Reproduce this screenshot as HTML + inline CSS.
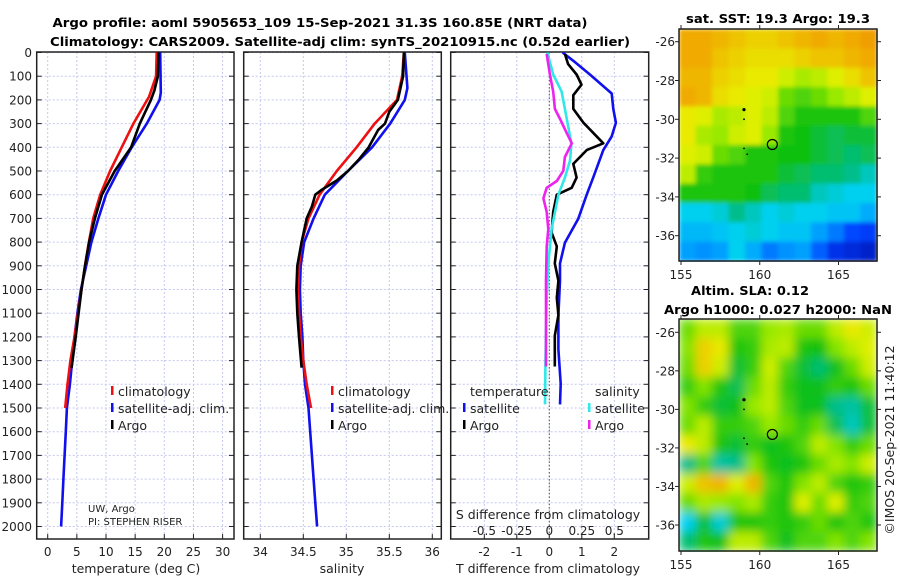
<!DOCTYPE html>
<html><head><meta charset="utf-8"><style>
body{margin:0;background:#fff;}
svg{display:block;font-family:"DejaVu Sans","Liberation Sans",sans-serif;}
</style></head><body>
<svg id="fig" width="900" height="580" viewBox="0 0 900 580" xmlns="http://www.w3.org/2000/svg">
<defs>
<filter id="blur" x="0" y="0" width="1" height="1"><feGaussianBlur stdDeviation="5" edgeMode="duplicate"/></filter>
<filter id="blur2" x="0" y="0" width="1" height="1"><feGaussianBlur stdDeviation="2" edgeMode="duplicate"/></filter>
</defs>
<rect width="900" height="580" fill="#fff"/>
<text x="320" y="27" text-anchor="middle" font-weight="bold" font-size="12" textLength="535" lengthAdjust="spacingAndGlyphs">Argo profile: aoml 5905653_109 15-Sep-2021 31.3S 160.85E (NRT data)</text>
<text x="340" y="46" text-anchor="middle" font-weight="bold" font-size="12" textLength="580" lengthAdjust="spacingAndGlyphs">Climatology: CARS2009. Satellite-adj clim: synTS_20210915.nc (0.52d earlier)</text>
<text x="778" y="23" text-anchor="middle" font-weight="bold" font-size="12" textLength="184" lengthAdjust="spacingAndGlyphs">sat. SST: 19.3 Argo: 19.3</text>
<text x="750" y="295" text-anchor="middle" font-weight="bold" font-size="12" textLength="118" lengthAdjust="spacingAndGlyphs">Altim. SLA: 0.12</text>
<text x="778" y="314" text-anchor="middle" font-weight="bold" font-size="12" textLength="228" lengthAdjust="spacingAndGlyphs">Argo h1000: 0.027 h2000: NaN</text>
<text transform="translate(894,440) rotate(-90)" text-anchor="middle" font-size="12.5" fill="#222">©IMOS 20-Sep-2021 11:40:12</text>
<g id="g"></g>
</svg>
<script>
// ---- profile data ----
const climTdepth=[0,100,186,300,400,500,600,700,810,900,1000,1100,1200,1300,1400,1500];
const climT=[18.7,18.6,17.4,14.7,12.7,10.7,9.0,7.8,7.0,6.4,5.8,5.2,4.6,3.9,3.4,3.0];
const satTdepth=[0,170,200,300,400,500,600,700,800,900,1000,1100,1200,1300,1400,1500,1600,1700,1800,1900,2000];
const satT=[19.3,19.4,19.2,17.0,14.4,12.1,10.0,8.7,7.5,6.6,5.7,5.1,4.6,4.2,3.8,3.3,3.1,2.9,2.7,2.5,2.3];
const argoTdepth=[0,100,160,200,300,400,500,600,700,800,900,1000,1100,1200,1330];
const argoT=[19.0,18.9,18.3,17.7,15.8,14.3,11.5,9.3,8.1,7.1,6.4,5.8,5.3,4.8,4.1];
const climSdepth=[0,100,200,300,400,500,600,700,800,900,1000,1100,1200,1300,1400,1500];
const climS=[35.67,35.65,35.59,35.33,35.12,34.89,34.69,34.56,34.48,34.45,34.44,34.45,34.47,34.50,34.54,34.59];
const satSdepth=[0,150,200,300,400,500,600,700,800,900,1000,1100,1200,1300,1400,1500,1600,1700,1800,1900,2000];
const satS=[35.68,35.71,35.68,35.51,35.30,35.02,34.75,34.62,34.51,34.47,34.46,34.47,34.49,34.50,34.52,34.56,34.58,34.60,34.62,34.64,34.66];
const argoSdepth=[0,100,200,250,300,327,400,450,500,540,580,600,650,700,800,900,1000,1100,1200,1330];
const argoS=[35.67,35.66,35.60,35.50,35.45,35.37,35.26,35.15,35.02,34.89,34.71,34.64,34.60,34.54,34.48,34.43,34.42,34.43,34.45,34.48];
// differences
const dSatTdepth=[0,35,93,173,238,296,354,412,528,600,702,803,890,963,1108,1253,1398,1485];
const dSatT=[0.41,0.74,1.25,1.92,1.97,2.05,1.92,1.66,1.35,1.15,0.89,0.48,0.33,0.33,0.28,0.28,0.35,0.33];
const dArgoTdepth=[6,49,93,136,180,238,296,339,383,412,470,528,571,600,673,760,818,890,963,1035,1108,1195,1253,1325];
const dArgoT=[0.48,0.58,0.84,0.99,0.74,0.74,1.05,1.35,1.66,1.15,0.74,0.84,0.69,0.23,0.12,0.07,0.23,0.17,0.28,0.23,0.28,0.17,0.17,0.17];
const dSatSdepth=[0,93,165,238,310,383,455,528,600,745,890,1035,1180,1325,1485];
const dSatS=[-0.015,0.03,0.095,0.12,0.145,0.17,0.16,0.12,0.07,0.018,-0.008,-0.02,-0.025,-0.03,-0.033];
const dArgoSdepth=[6,93,165,238,281,339,383,441,499,542,571,615,673,745,818,963,1108,1325];
const dArgoS=[-0.02,0.005,0.03,0.043,0.083,0.133,0.173,0.12,0.108,0.058,-0.02,-0.045,-0.02,-0.008,-0.02,-0.025,-0.025,-0.025];
const depthTicks=[0,100,200,300,400,500,600,700,800,900,1000,1100,1200,1300,1400,1500,1600,1700,1800,1900,2000];
const tTicks=[0,5,10,15,20,25,30];
const sTicks=[34,34.5,35,35.5,36];
const sTickLabels=["34","34.5","35","35.5","36"];
const dTTicks=[-2,-1,0,1,2];
const dSTicks=[-0.5,-0.25,0,0.25,0.5];
const dSTickLabels=["-0.5","-0.25","0","0.25","0.5"];
// ---- map data (0..1 colour index), rows north->south, cols west->east ----
const sstGrid=[
[.86,.86,.84,.82,.80,.80,.82,.84,.86,.84,.86,.88],
[.86,.86,.82,.80,.78,.78,.78,.80,.82,.82,.84,.86],
[.84,.84,.80,.78,.76,.76,.72,.68,.70,.74,.78,.82],
[.86,.84,.78,.76,.74,.72,.62,.60,.62,.66,.70,.74],
[.76,.74,.68,.70,.74,.70,.60,.56,.56,.56,.56,.60],
[.76,.68,.66,.72,.74,.66,.56,.55,.52,.50,.52,.52],
[.74,.72,.62,.60,.56,.56,.55,.55,.52,.50,.48,.50],
[.70,.58,.56,.56,.56,.56,.52,.50,.48,.48,.46,.42],
[.56,.56,.56,.56,.55,.50,.48,.48,.42,.40,.38,.38],
[.38,.38,.40,.46,.42,.38,.40,.38,.38,.36,.36,.32],
[.34,.34,.36,.38,.40,.38,.36,.36,.30,.24,.16,.14],
[.30,.28,.30,.38,.32,.24,.28,.30,.20,.12,.10,.08]];
const slaGrid=[
[.62,.70,.70,.60,.60,.66,.68,.62,.62,.70,.76,.72],
[.64,.80,.76,.56,.58,.68,.70,.56,.55,.64,.70,.74],
[.62,.80,.72,.52,.58,.72,.60,.52,.48,.54,.62,.72],
[.58,.64,.56,.50,.62,.70,.58,.54,.54,.58,.56,.62],
[.64,.58,.52,.54,.66,.70,.60,.54,.54,.46,.44,.52],
[.62,.70,.58,.58,.60,.66,.62,.58,.62,.50,.42,.52],
[.76,.70,.56,.52,.58,.54,.56,.60,.70,.64,.58,.62],
[.46,.60,.44,.46,.64,.56,.54,.56,.62,.68,.64,.72],
[.72,.82,.84,.74,.84,.60,.56,.64,.70,.60,.56,.58],
[.62,.68,.66,.64,.68,.58,.56,.74,.62,.74,.58,.60],
[.38,.52,.40,.56,.56,.58,.56,.58,.62,.56,.60,.56],
[.48,.56,.54,.70,.70,.60,.54,.60,.60,.64,.60,.64]];
const lonTicks=[155,160,165];
const latTicks=[-26,-28,-30,-32,-34,-36];
const argoLon=160.8, argoLat=-31.3;
const coastLon=[159.0,159.0,159.0,159.2];
const coastLat=[-29.5,-30.0,-31.5,-31.8];

const NS='http://www.w3.org/2000/svg';
const G=document.getElementById('g');
function mk(tag,attrs,parent){const e=document.createElementNS(NS,tag);for(const k in attrs)e.setAttribute(k,attrs[k]);(parent||G).appendChild(e);return e;}
function txt(x,y,s,size,anchor,parent){const t=mk('text',{x:x,y:y,'font-size':size,'text-anchor':anchor||'middle',fill:'#222'},parent);t.textContent=s;return t;}

const yTop=52.5, yPer=0.2370, boxTop=52, boxBot=539;
const yD=d=>yTop+d*yPer;
const panels=[
 {name:'temperature',L:36.7,R:234,x:v=>47.7+v*5.83},
 {name:'salinity',L:243.7,R:441.3,x:v=>260.3+(v-34)*86},
 {name:'difference',L:450.7,R:648.7,x:v=>549.3+v*32.5}
];
panels.forEach((p,i)=>{
  const g=mk('g',{});
  
  
  const ticks=i==0?tTicks:(i==1?sTicks:dTTicks);
  ticks.forEach(v=>{const x=p.x(v);const l=mk('line',{x1:x,x2:x,y1:boxTop,y2:boxBot,stroke:'#c4c8ee','stroke-width':1,'stroke-dasharray':'2,2'},g);
    });
  depthTicks.forEach(d=>{const y=yD(d);const l=mk('line',{x1:p.L,x2:p.R,y1:y,y2:y,stroke:'#c4c8ee','stroke-width':1,'stroke-dasharray':'2,2'},g);
    
    mk('line',{x1:p.L,x2:p.L+5,y1:y,y2:y,stroke:'#222'},g);mk('line',{x1:p.R-5,x2:p.R,y1:y,y2:y,stroke:'#222'},g);
    if(i==0){const t=txt(32,y+4.5,String(d),12,'end',g);}
  });
  ticks.forEach((v,k)=>{const x=p.x(v);mk('line',{x1:x,x2:x,y1:boxBot,y2:boxBot-5,stroke:'#222'},g);
    const lab=i==1?sTickLabels[k]:String(v);const t=txt(x,556,lab,12,'middle',g);
    });
  const r=mk('rect',{x:p.L,y:boxTop,width:p.R-p.L,height:boxBot-boxTop,fill:'none',stroke:'#222','stroke-width':1.5},g);
  
});
const z=mk('line',{x1:549.3,x2:549.3,y1:boxTop,y2:boxBot,stroke:'#555','stroke-width':1,'stroke-dasharray':'1.5,2'});

function series(p,xs,ds,col,name,w){
  const pts=xs.map((v,k)=>p.x(v).toFixed(1)+','+yD(ds[k]).toFixed(1)).join(' ');
  const l=mk('polyline',{points:pts,fill:'none',stroke:col,'stroke-width':w||2.6,'stroke-linejoin':'round'});
  
}
const P0=panels[0],P1=panels[1],P2=panels[2];
series(P0,satT,satTdepth,'#1010ee','temp-satellite-line');
series(P0,climT,climTdepth,'#ee1010','temp-climatology-line');
series(P0,argoT,argoTdepth,'#000','temp-argo-line');
series(P1,satS,satSdepth,'#1010ee','sal-satellite-line');
series(P1,climS,climSdepth,'#ee1010','sal-climatology-line');
series(P1,argoS,argoSdepth,'#000','sal-argo-line');
series(P2,dSatT,dSatTdepth,'#1010ee','tdiff-satellite-line');
series(P2,dArgoT,dArgoTdepth,'#000','tdiff-argo-line');
series(P2,dSatS.map(v=>v*4),dSatSdepth,'#30e8e8','sdiff-satellite-line');
series(P2,dArgoS.map(v=>v*4),dArgoSdepth,'#ee22ee','sdiff-argo-line');
dSTicks.forEach((v,k)=>{const t=txt(P2.x(v*4),535,dSTickLabels[k],12,'middle');});
let t;
t=txt(548,519,'S difference from climatology',12.5);
t=txt(548,573,'T difference from climatology',12.5);
t=txt(136,573,'temperature (deg C)',12.5);
t=txt(342,573,'salinity',12.5);
t=txt(88,512,'UW, Argo',10,'start');
t=txt(88,525,'PI: STEPHEN RISER',10,'start');
function legend(x,y,col,label){
  mk('rect',{x:x,y:y-10,width:2.5,height:9,fill:col});
  const t=txt(x+7,y,label,12.5,'start');
}
legend(111,396,'#ee1010','climatology');legend(111,413,'#1010ee','satellite-adj. clim.');legend(111,430,'#000','Argo');
legend(331,396,'#ee1010','climatology');legend(331,413,'#1010ee','satellite-adj. clim.');legend(331,430,'#000','Argo');
t=txt(470,396,'temperature',12.5,'start');
t=txt(595,396,'salinity',12.5,'start');
legend(463,413,'#1010ee','satellite');legend(463,430,'#000','Argo');
legend(588,413,'#30e8e8','satellite');legend(588,430,'#ee22ee','Argo');
// ---- maps ----
const stops=[[0,[0,0,143]],[0.15,[0,64,255]],[0.3,[0,160,255]],[0.38,[0,208,240]],[0.46,[0,190,140]],[0.55,[16,192,16]],[0.65,[144,232,0]],[0.75,[232,240,0]],[0.85,[240,176,0]],[0.95,[240,120,0]]];
function cmap(v){for(let i=1;i<stops.length;i++){if(v<=stops[i][0]){const a=stops[i-1],b=stops[i];const f=(v-a[0])/(b[0]-a[0]);
  return 'rgb('+a[1].map((c,k)=>Math.round(c+(b[1][k]-c)*f)).join(',')+')';}}return 'rgb(240,120,0)';}
function drawMap(grid,top,lat26,perLat,name,flt){
  const L=679,R=877,bot=top+232;
  const lonX=lo=>681+(lo-155)*15.75;
  const latY=la=>lat26+(-26-la)*perLat;
  const g=mk('g',{});
  const cells=mk('g',{filter:'url(#'+flt+')'},g);
  const nr=grid.length,nc=grid[0].length,cw=(R-L)/nc,ch=(bot-top)/nr;
  grid.forEach((row,r)=>row.forEach((v,c)=>{const cell=mk('rect',{x:L+c*cw,y:top+r*ch,width:cw+0.6,height:ch+0.6,fill:cmap(v)},cells);
    }));
  mk('rect',{x:L,y:top,width:R-L,height:bot-top,fill:'none',stroke:'#222','stroke-width':1.5},g);
  lonTicks.forEach(lo=>{const x=lonX(lo);mk('line',{x1:x,x2:x,y1:bot,y2:bot+4,stroke:'#222'},g);mk('line',{x1:x,x2:x,y1:top,y2:top-4,stroke:'#222'},g);
    const t=txt(x,bot+18,String(lo),12,'middle',g);});
  latTicks.forEach(la=>{const y=latY(la);mk('line',{x1:L,x2:L-4,y1:y,y2:y,stroke:'#222'},g);mk('line',{x1:R,x2:R+4,y1:y,y2:y,stroke:'#222'},g);
    const t=txt(675,y+4.5,String(la),12,'end',g);});
  coastLon.forEach((lo,k)=>mk('circle',{cx:lonX(lo),cy:latY(coastLat[k]),r:k==0?1.6:0.9,fill:'#000'},g));
  const m=mk('circle',{cx:lonX(argoLon),cy:latY(argoLat),r:5,fill:'none',stroke:'#000','stroke-width':1.2},g);
  
}
drawMap(sstGrid,29,41.7,19.4,'sst-map','blur2');
drawMap(slaGrid,319,332.3,19.27,'sla-map','blur');
</script>
</body></html>
